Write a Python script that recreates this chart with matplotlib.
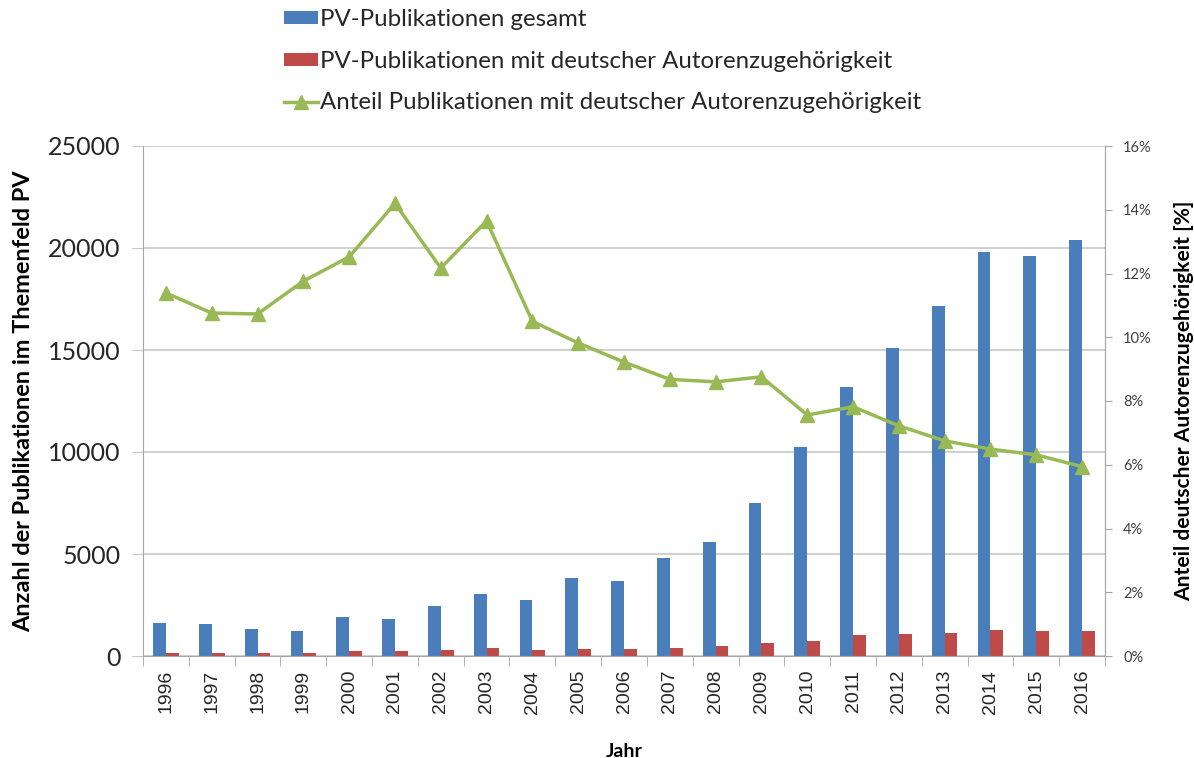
import matplotlib
matplotlib.use("Agg")
import matplotlib.pyplot as plt
import numpy as np
from matplotlib.ticker import FuncFormatter, MultipleLocator

plt.rcParams['font.family'] = ['Lato', 'DejaVu Sans']

years = [str(y) for y in range(1996, 2017)]
pv_total = [1620, 1570, 1310, 1225, 1910, 1800, 2435, 3055, 2730, 3820, 3660,
            4800, 5590, 7500, 10260, 13200, 15080, 17150, 19780, 19620, 20370]
pv_german = [170, 170, 130, 130, 245, 240, 300, 410, 280, 360, 320,
             410, 470, 640, 750, 1030, 1060, 1145, 1260, 1225, 1225]
share_pct = [11.39, 10.76, 10.73, 11.76, 12.52, 14.2, 12.17, 13.65, 10.5, 9.82, 9.22,
             8.68, 8.6, 8.76, 7.56, 7.82, 7.22, 6.75, 6.49, 6.31, 5.94]

blue = '#4a7ebb'
red = '#be4b48'
green = '#98b954'
grid_c = '#c8c8c8'
text_c = '#262626'

fig = plt.figure(figsize=(11.94, 7.58), dpi=100)
ax = fig.add_axes([143/1194, 1-656/758, (1105-143)/1194, (656-146)/758])
x = np.arange(len(years))
w = 0.28
b1 = ax.bar(x - w/2, pv_total, width=w, color=blue, label='PV-Publikationen gesamt', zorder=2)
b2 = ax.bar(x + w/2, pv_german, width=w, color=red,
            label='PV-Publikationen mit deutscher Autorenzugehörigkeit', zorder=2)
ax.set_ylim(0, 25000)
ax.set_xlim(-0.5, len(years) - 0.5)
ax.yaxis.set_major_locator(MultipleLocator(5000))
ax.grid(axis='y', color=grid_c, linewidth=1.2, zorder=0)
ax.set_axisbelow(True)
ax.set_xticks(x)
ax.set_xticklabels(years, rotation=90, fontsize=14, family=['Liberation Sans'], color=text_c)
ax.tick_params(axis='x', length=0, pad=10)
ax.set_xticks(np.arange(-0.5, len(years)), minor=True)
ax.tick_params(axis='x', which='minor', length=7, color='#a6a6a6')
ax.tick_params(axis='y', labelsize=18, length=8, color=grid_c, pad=8, labelcolor=text_c)
ax.spines['top'].set_visible(False)
for s in ['left', 'bottom', 'right']:
    ax.spines[s].set_color('#a6a6a6')
ax.set_ylabel('Anzahl der Publikationen im Themenfeld PV', fontsize=16.9, fontweight='bold',
              labelpad=10, color='black')
ax.set_xlabel('Jahr', fontsize=14, fontweight='bold', labelpad=21, color='black')

ax2 = ax.twinx()
l1, = ax2.plot(x, share_pct, color=green, linewidth=2.5, marker='^', markersize=10,
               label='Anteil Publikationen mit deutscher Autorenzugehörigkeit', zorder=3)
ax2.set_ylim(0, 16)
ax2.yaxis.set_major_locator(MultipleLocator(2))
ax2.yaxis.set_major_formatter(FuncFormatter(lambda v, p: f'{v:.0f}%'))
ax2.tick_params(axis='y', labelsize=10.5, length=5, color='#a6a6a6', pad=8, labelcolor='#404040')
ax2.spines['top'].set_visible(False)
ax2.spines['right'].set_color('#a6a6a6')
ax2.spines['left'].set_visible(False)
ax2.spines['bottom'].set_visible(False)
ax2.set_ylabel('Anteil deutscher Autorenzugehörigkeit [%]', fontsize=15.1, fontweight='bold',
               labelpad=16, color='black')

leg = fig.legend(handles=[b1, b2, l1], loc='upper left', bbox_to_anchor=(262/1194, 1.016),
                 frameon=False, fontsize=17.3, handlelength=1.45, handletextpad=0.05,
                 labelspacing=0.85, handleheight=0.45)
for t in leg.get_texts():
    t.set_color(text_c)

fig.savefig('out.png', dpi=100)
